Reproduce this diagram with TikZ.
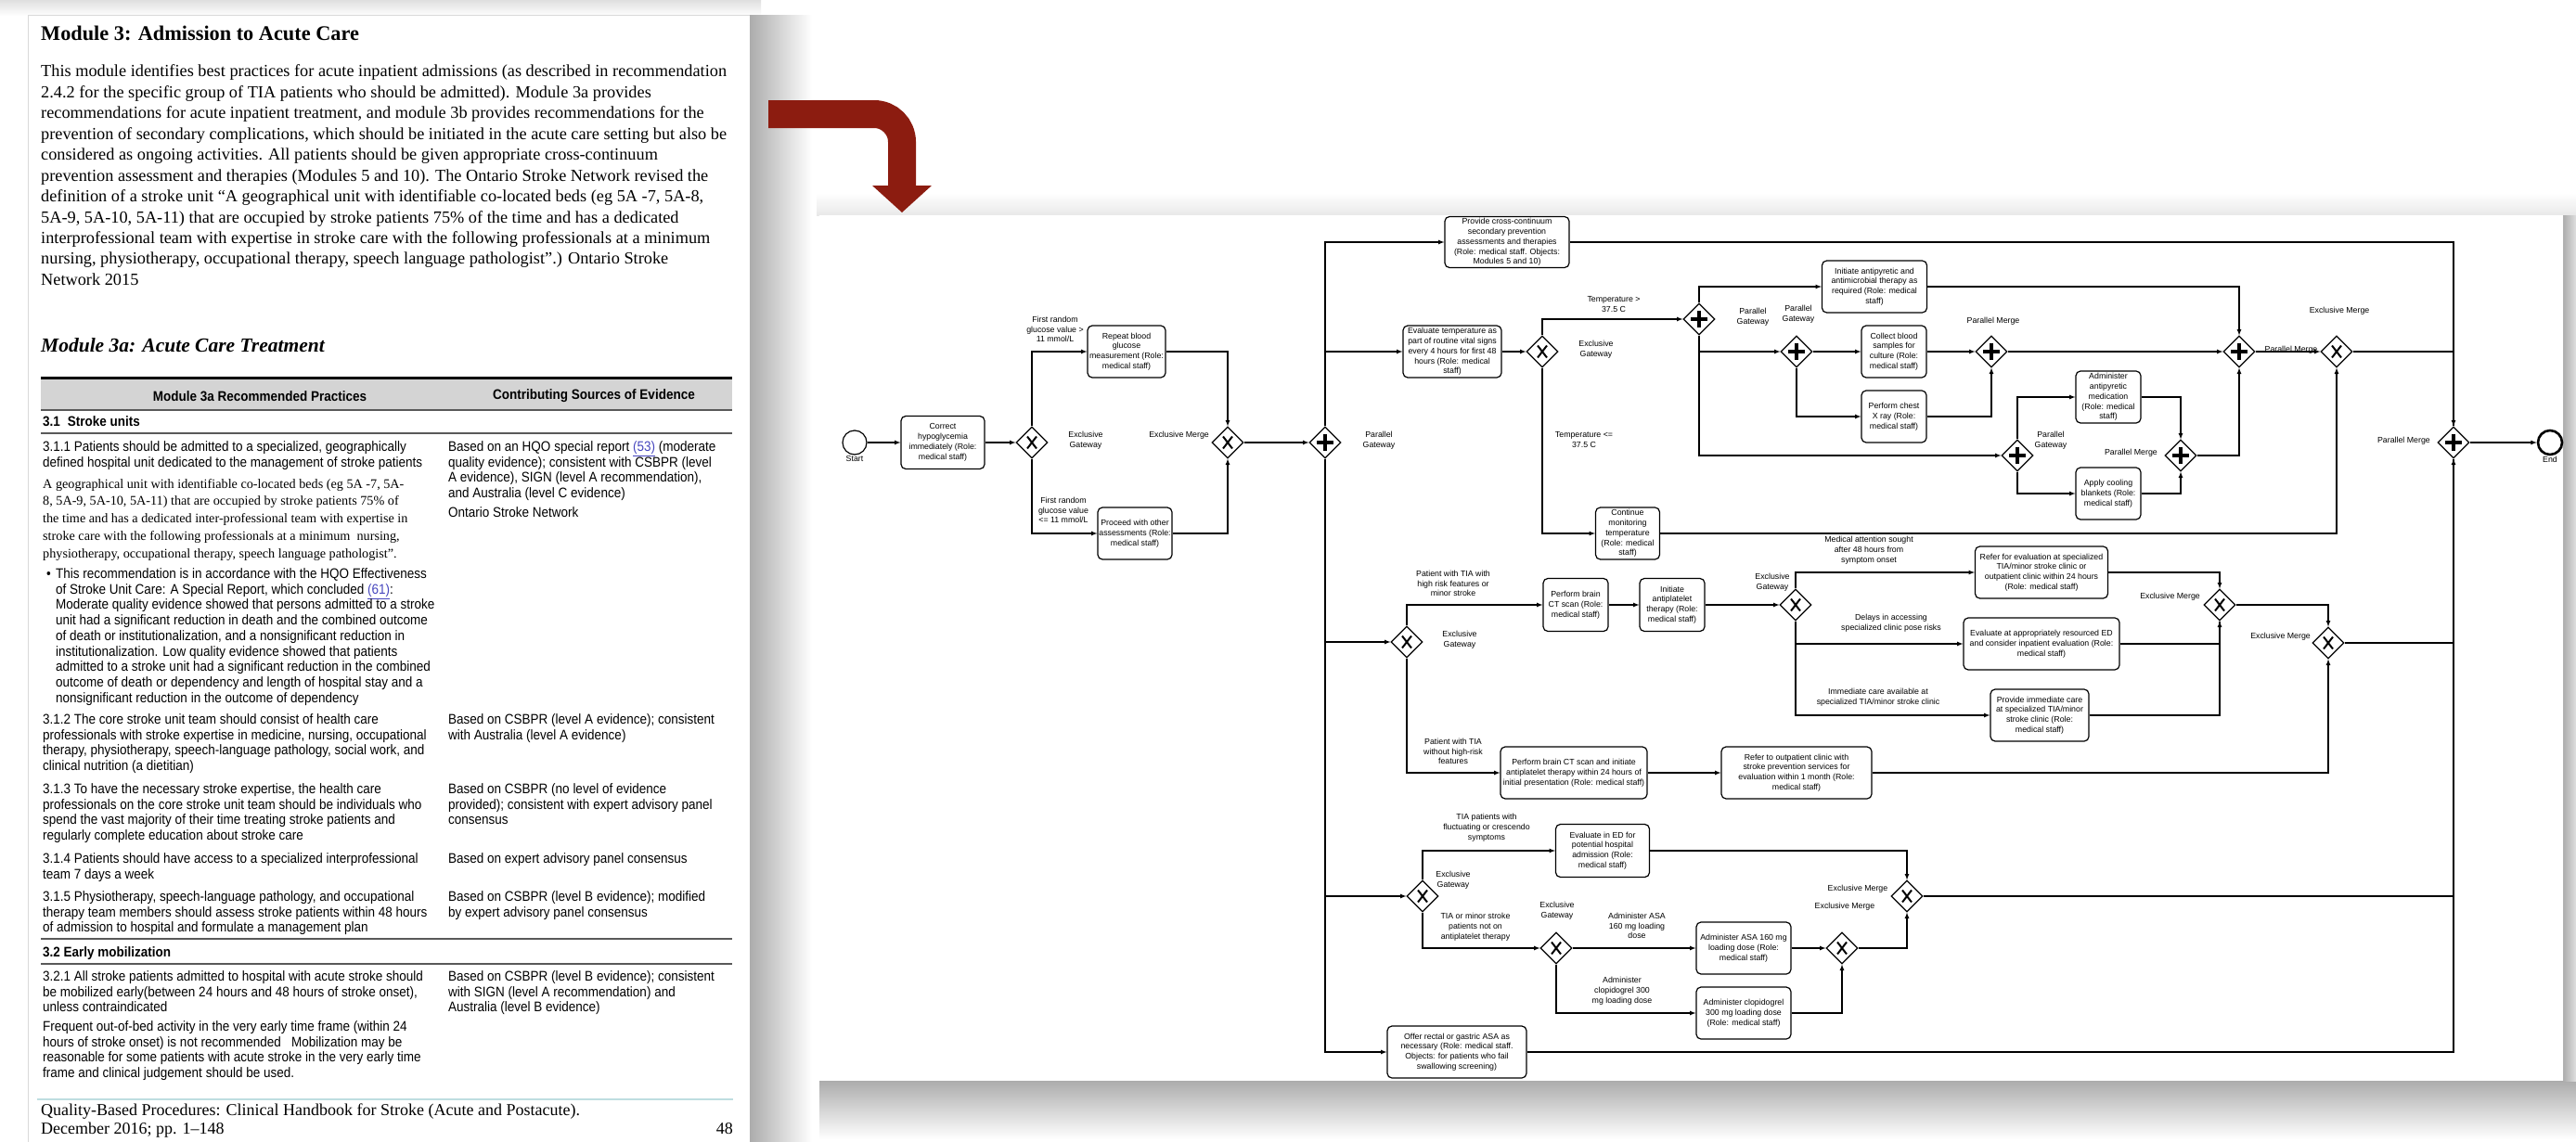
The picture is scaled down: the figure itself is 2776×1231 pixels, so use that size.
\documentclass[tikz,border=0pt]{standalone}
\usepackage{fontspec}
\setmainfont{Liberation Serif}
\newfontfamily\docserif{Liberation Serif}
\newfontfamily\tabsans[FakeStretch=0.9]{Liberation Sans}
\newfontfamily\bpmnsans{Liberation Sans}
\usetikzlibrary{shapes.geometric}
\definecolor{arrowred}{RGB}{140,28,16}
\definecolor{linkblue}{RGB}{70,70,190}
\definecolor{hdrgray}{RGB}{212,212,212}
\definecolor{footcyan}{RGB}{190,222,224}
\newcommand{\doccol}[2]{\parbox[t]{#1}{\raggedright #2}}

\tikzset{
  task/.style={draw, rounded corners=5pt, line width=1.2pt, fill=white, align=center,
    inner sep=1pt, font=\bpmnsans\fontsize{8.8}{10.8}\selectfont},
  gw/.style={diamond, draw, line width=1.2pt, fill=white, inner sep=0pt,
    minimum width=34pt, minimum height=34pt},
  xgw/.style={gw, path picture={
    \draw[line width=2pt]
      ([shift={(-5pt,-6.5pt)}]path picture bounding box.center) -- ([shift={(5pt,6.5pt)}]path picture bounding box.center)
      ([shift={(-5pt,6.5pt)}]path picture bounding box.center) -- ([shift={(5pt,-6.5pt)}]path picture bounding box.center);}},
  pgw/.style={gw, path picture={
    \draw[line width=3.5pt]
      ([shift={(-9pt,0pt)}]path picture bounding box.center) -- ([shift={(9pt,0pt)}]path picture bounding box.center)
      ([shift={(0pt,-9pt)}]path picture bounding box.center) -- ([shift={(0pt,9pt)}]path picture bounding box.center);}},
  lbl/.style={align=center, inner sep=0pt, font=\bpmnsans\fontsize{8.8}{10.8}\selectfont},
  flow/.style={line width=1.2pt, -latex},
  wire/.style={line width=1.2pt},
  evnt/.style={circle, draw, fill=white, minimum size=26pt, inner sep=0pt, line width=1.2pt},
  doctxt/.style={anchor=base west, inner sep=0pt},
  tabtxt/.style={doctxt, font=\tabsans\fontsize{15}{16.7}\selectfont},
}

\begin{document}
\begin{tikzpicture}[x=1pt, y=-1pt]
            \useasboundingbox (0,0) rectangle (2776,1231);
            \fill[white] (0,0) rectangle (2776,1231);

            % 左侧文档页
            \shade[top color=gray!25, bottom color=white] (0,0) rectangle (820,17);
            \fill[white] (30,17) rectangle (808,1231);
            \draw[gray!30, line width=1pt] (30,1231) -- (30,17) -- (808,17);
            \shade[left color=gray!65, right color=white] (808,17) rectangle (875,1231);

            \node[doctxt, font=\docserif\bfseries\fontsize{22.3}{26}\selectfont] (title) at (44,44) {Module 3: Admission to Acute Care};
            \node[doctxt, font=\docserif\fontsize{18.3}{22.5}\selectfont] (intro) at (44,82.5) {\doccol{900pt}{%
              This module identifies best practices for acute inpatient admissions (as described in recommendation\\
              2.4.2 for the specific group of TIA patients who should be admitted). Module 3a provides\\
              recommendations for acute inpatient treatment, and module 3b provides recommendations for the\\
              prevention of secondary complications, which should be initiated in the acute care setting but also be\\
              considered as ongoing activities. All patients should be given appropriate cross-continuum\\
              prevention assessment and therapies (Modules 5 and 10). The Ontario Stroke Network revised the\\
              definition of a stroke unit “A geographical unit with identifiable co-located beds (eg 5A -7, 5A-8,\\
              5A-9, 5A-10, 5A-11) that are occupied by stroke patients 75\% of the time and has a dedicated\\
              interprofessional team with expertise in stroke care with the following professionals at a minimum\\
              nursing, physiotherapy, occupational therapy, speech language pathologist”.) Ontario Stroke\\
              Network 2015}};
            \node[doctxt, font=\docserif\bfseries\itshape\fontsize{21.5}{26}\selectfont] (sub) at (44,379) {Module 3a: Acute Care Treatment};

            % 表格
            \fill[hdrgray] (44,407) rectangle (789,442);
            \draw[line width=3pt] (44,407) -- (789,407);
            \draw[line width=2pt, gray!70!black] (44,442) -- (789,442);
            \node[inner sep=0pt, font=\tabsans\bfseries\fontsize{15}{16.7}\selectfont] (hdleft) at (280,427) {Module 3a Recommended Practices};
            \node[inner sep=0pt, font=\tabsans\bfseries\fontsize{15}{16.7}\selectfont] (hdright) at (640,427) {Contributing Sources of Evidence};
            \node[tabtxt, font=\tabsans\bfseries\fontsize{15}{16.7}\selectfont] (sec31) at (46,459.5) {3.1\hspace{8pt}Stroke units};
            \draw[line width=2pt, gray!70!black] (44,467) -- (789,467);

            \node[tabtxt] (r311) at (46,486.5) {\doccol{600pt}{3.1.1 Patients should be admitted to a specialized, geographically\\
              defined hospital unit dedicated to the management of stroke patients}};
            \node[doctxt, font=\docserif\fontsize{14.2}{18.75}\selectfont] (r311b) at (46,526) {\doccol{600pt}{%
              A geographical unit with identifiable co-located beds (eg 5A -7, 5A-\\
              8, 5A-9, 5A-10, 5A-11) that are occupied by stroke patients 75\% of\\
              the time and has a dedicated inter-professional team with expertise in\\
              stroke care with the following professionals at a minimum\ \ nursing,\\
              physiotherapy, occupational therapy, speech language pathologist”.}};
            \node[tabtxt] (dot) at (50,623.5) {•};
            \node[tabtxt] (r311c) at (60,623.5) {\doccol{600pt}{%
              This recommendation is in accordance with the HQO Effectiveness\\
              of Stroke Unit Care: A Special Report, which concluded \textcolor{linkblue}{\underline{(61)}}:\\
              Moderate quality evidence showed that persons admitted to a stroke\\
              unit had a significant reduction in death and the combined outcome\\
              of death or institutionalization, and a nonsignificant reduction in\\
              institutionalization. Low quality evidence showed that patients\\
              admitted to a stroke unit had a significant reduction in the combined\\
              outcome of death or dependency and length of hospital stay and a\\
              nonsignificant reduction in the outcome of dependency}};
            \node[tabtxt] (e311) at (483,486.5) {\doccol{400pt}{%
              Based on an HQO special report \textcolor{linkblue}{\underline{(53)}} (moderate\\
              quality evidence); consistent with CSBPR (level\\
              A evidence), SIGN (level A recommendation),\\
              and Australia (level C evidence)}};
            \node[tabtxt] (e311b) at (483,557.5) {Ontario Stroke Network};

            \node[tabtxt] (r312) at (46,780.5) {\doccol{600pt}{%
              3.1.2 The core stroke unit team should consist of health care\\
              professionals with stroke expertise in medicine, nursing, occupational\\
              therapy, physiotherapy, speech-language pathology, social work, and\\
              clinical nutrition (a dietitian)}};
            \node[tabtxt] (e312) at (483,780.5) {\doccol{400pt}{Based on CSBPR (level A evidence); consistent\\
              with Australia (level A evidence)}};

            \node[tabtxt] (r313) at (46,855.5) {\doccol{600pt}{%
              3.1.3 To have the necessary stroke expertise, the health care\\
              professionals on the core stroke unit team should be individuals who\\
              spend the vast majority of their time treating stroke patients and\\
              regularly complete education about stroke care}};
            \node[tabtxt] (e313) at (483,855.5) {\doccol{400pt}{Based on CSBPR (no level of evidence\\
              provided); consistent with expert advisory panel\\ consensus}};

            \node[tabtxt] (r314) at (46,930.5) {\doccol{600pt}{%
              3.1.4 Patients should have access to a specialized interprofessional\\ team 7 days a week}};
            \node[tabtxt] (e314) at (483,930.5) {Based on expert advisory panel consensus};

            \node[tabtxt] (r315) at (46,971.5) {\doccol{600pt}{%
              3.1.5 Physiotherapy, speech-language pathology, and occupational\\
              therapy team members should assess stroke patients within 48 hours\\
              of admission to hospital and formulate a management plan}};
            \node[tabtxt] (e315) at (483,971.5) {\doccol{400pt}{Based on CSBPR (level B evidence); modified\\
              by expert advisory panel consensus}};

            \draw[line width=2pt, gray!70!black] (44,1012) -- (789,1012);
            \node[tabtxt, font=\tabsans\bfseries\fontsize{15}{16.7}\selectfont] (sec32) at (46,1031.5) {3.2 Early mobilization};
            \draw[line width=2pt, gray!70!black] (44,1039) -- (789,1039);

            \node[tabtxt] (r321) at (46,1057.5) {\doccol{600pt}{%
              3.2.1 All stroke patients admitted to hospital with acute stroke should\\
              be mobilized early(between 24 hours and 48 hours of stroke onset),\\
              unless contraindicated}};
            \node[tabtxt] (r321b) at (46,1111.5) {\doccol{600pt}{%
              Frequent out-of-bed activity in the very early time frame (within 24\\
              hours of stroke onset) is not recommended\ \ \ Mobilization may be\\
              reasonable for some patients with acute stroke in the very early time\\
              frame and clinical judgement should be used.}};
            \node[tabtxt] (e321) at (483,1057.5) {\doccol{400pt}{Based on CSBPR (level B evidence); consistent\\
              with SIGN (level A recommendation) and\\ Australia (level B evidence)}};

            % 页脚
            \draw[footcyan, line width=2pt] (40,1185) -- (790,1185);
            \node[doctxt, font=\docserif\fontsize{18}{20}\selectfont] (foot) at (44,1202) {\doccol{800pt}{%
              Quality-Based Procedures: Clinical Handbook for Stroke (Acute and Postacute).\\
              December 2016; pp. 1–148}};
            \node[anchor=base east, inner sep=0pt, font=\docserif\fontsize{18}{20}\selectfont] (pageno) at (790,1222) {48};

            % 流程图面板
            \shade[top color=white, bottom color=gray!18] (880,208) rectangle (2776,232);
            \shade[top color=gray!65, bottom color=white] (883,1165) rectangle (2776,1228);
            \shade[left color=gray!65, right color=gray!25] (2762,232) rectangle (2776,1165);
            \fill[white] (883,232) rectangle (2762,1165);
            \draw[gray!60, line width=1pt] (2762,232) -- (2762,1165);

            % 红色箭头
            \draw[arrowred, line width=30pt, rounded corners=30pt] (828,123) -| (972,202);
            \fill[arrowred] (940,200) -- (1004,200) -- (972,229) -- cycle;

            % 事件与任务
            \node[evnt, label={[lbl, yshift=-1pt]below:Start}] (sStart) at (921,477) {};
            \node[evnt, line width=2.6pt, label={[lbl, yshift=-1pt]below:End}] (eEnd) at (2748,477) {};

            \node[task, minimum width=90pt, minimum height=57pt] (tCorr) at (1016,477) {Correct\\hypoglycemia\\immediately (Role:\\medical staff)};
            \node[task, minimum width=84pt, minimum height=56pt] (tRep) at (1214,379) {Repeat blood\\glucose\\measurement (Role:\\medical staff)};
            \node[task, minimum width=80pt, minimum height=56pt] (tProc) at (1223,575) {Proceed with other\\assessments (Role:\\medical staff)};
            \node[task, minimum width=134pt, minimum height=55pt] (tProv) at (1624,261) {Provide cross-continuum\\secondary prevention\\assessments and therapies\\(Role: medical staff. Objects:\\Modules 5 and 10)};
            \node[task, minimum width=106pt, minimum height=56pt] (tEvt) at (1565,379) {Evaluate temperature as\\part of routine vital signs\\every 4 hours for first 48\\hours (Role: medical\\staff)};
            \node[task, minimum width=69pt, minimum height=56pt] (tCont) at (1754,575) {Continue\\monitoring\\temperature\\(Role: medical\\staff)};
            \node[task, minimum width=113pt, minimum height=56pt] (tInitA) at (2020,309) {Initiate antipyretic and\\antimicrobial therapy as\\required (Role: medical\\staff)};
            \node[task, minimum width=70pt, minimum height=56pt] (tColl) at (2041,379) {Collect blood\\samples for\\culture (Role:\\medical staff)};
            \node[task, minimum width=70pt, minimum height=56pt] (tXray) at (2041,449) {Perform chest\\X ray (Role:\\medical staff)};
            \node[task, minimum width=70pt, minimum height=56pt] (tAdmA) at (2272,428) {Administer\\antipyretic\\medication\\(Role: medical\\staff)};
            \node[task, minimum width=70pt, minimum height=56pt] (tCool) at (2272,532) {Apply cooling\\blankets (Role:\\medical staff)};
            \node[task, minimum width=70pt, minimum height=57pt] (tCt) at (1698,652) {Perform brain\\CT scan (Role:\\medical staff)};
            \node[task, minimum width=70pt, minimum height=57pt] (tAnti) at (1802,652) {Initiate\\antiplatelet\\therapy (Role:\\medical staff)};
            \node[task, minimum width=143pt, minimum height=56pt] (tRefS) at (2200,617) {Refer for evaluation at specialized\\TIA/minor stroke clinic or\\outpatient clinic within 24 hours\\(Role: medical staff)};
            \node[task, minimum width=168pt, minimum height=56pt] (tEvED) at (2200,694) {Evaluate at appropriately resourced ED\\and consider inpatient evaluation (Role:\\medical staff)};
            \node[task, minimum width=106pt, minimum height=56pt] (tProvI) at (2198,771) {Provide immediate care\\at specialized TIA/minor\\stroke clinic (Role:\\medical staff)};
            \node[task, minimum width=158pt, minimum height=56pt] (tCtA) at (1696,833) {Perform brain CT scan and initiate\\antiplatelet therapy within 24 hours of\\initial presentation (Role: medical staff)};
            \node[task, minimum width=162pt, minimum height=56pt] (tRefO) at (1936,833) {Refer to outpatient clinic with\\stroke prevention services for\\evaluation within 1 month (Role:\\medical staff)};
            \node[task, minimum width=101pt, minimum height=57pt] (tEdA) at (1727,917) {Evaluate in ED for\\potential hospital\\admission (Role:\\medical staff)};
            \node[task, minimum width=102pt, minimum height=56pt] (tAsa) at (1879,1022) {Administer ASA 160 mg\\loading dose (Role:\\medical staff)};
            \node[task, minimum width=102pt, minimum height=56pt] (tClop) at (1879,1092) {Administer clopidogrel\\300 mg loading dose\\(Role: medical staff)};
            \node[task, minimum width=150pt, minimum height=56pt] (tOffer) at (1570,1134) {Offer rectal or gastric ASA as\\necessary (Role: medical staff.\\Objects: for patients who fail\\swallowing screening)};

            % 网关
            \node[xgw] (gX1) at (1112,477) {};
            \node[xgw] (gX2) at (1323,477) {};
            \node[pgw] (gP0) at (1428,477) {};
            \node[xgw] (gX3) at (1662,379) {};
            \node[pgw] (gPA) at (1831,344) {};
            \node[pgw] (gPB) at (1936,379) {};
            \node[pgw] (gPE) at (2146,379) {};
            \node[pgw] (gPC) at (2174,491) {};
            \node[pgw] (gPF) at (2350,491) {};
            \node[pgw] (gPD) at (2413,379) {};
            \node[xgw] (gXG) at (2518,379) {};
            \node[pgw] (gPH) at (2644,477) {};
            \node[xgw] (gT1) at (1516,692) {};
            \node[xgw] (gT2) at (1935,652) {};
            \node[xgw] (gT3) at (2392,652) {};
            \node[xgw] (gT4) at (2509,693) {};
            \node[xgw] (gA1) at (1533,966) {};
            \node[xgw] (gA2) at (1677,1022) {};
            \node[xgw] (gA3) at (1985,1022) {};
            \node[xgw] (gA4) at (2055,966) {};

            % 网关标注
            \node[lbl] (lX1) at (1170,475) {Exclusive\\Gateway};
            \node[lbl, anchor=east] (lX2) at (1303,469) {Exclusive Merge};
            \node[lbl] (lP0) at (1486,475) {Parallel\\Gateway};
            \node[lbl] (lX3) at (1720,377) {Exclusive\\Gateway};
            \node[lbl] (lPA) at (1889,342) {Parallel\\Gateway};
            \node[lbl] (lPB) at (1938,339) {Parallel\\Gateway};
            \node[lbl] (lPE) at (2148,346) {Parallel Merge};
            \node[lbl] (lPC) at (2210,475) {Parallel\\Gateway};
            \node[lbl, anchor=east] (lPF) at (2325,488) {Parallel Merge};
            \node[lbl] (lPD) at (2469,377) {Parallel Merge};
            \node[lbl] (lXG) at (2521,335) {Exclusive Merge};
            \node[lbl, anchor=east] (lPH) at (2619,475) {Parallel Merge};
            \node[lbl] (lT1) at (1573,690) {Exclusive\\Gateway};
            \node[lbl] (lT2) at (1910,628) {Exclusive\\Gateway};
            \node[lbl, anchor=east] (lT3) at (2371,643) {Exclusive Merge};
            \node[lbl, anchor=east] (lT4) at (2490,686) {Exclusive Merge};
            \node[lbl] (lA1) at (1566,949) {Exclusive\\Gateway};
            \node[lbl] (lA2) at (1678,982) {Exclusive\\Gateway};
            \node[lbl] (lA3) at (1988,977) {Exclusive Merge};
            \node[lbl] (lA4) at (2002,958) {Exclusive Merge};

            % 条件标注
            \node[lbl] (c1) at (1137,355) {First random\\glucose value >\\11 mmol/L};
            \node[lbl] (c2) at (1146,550) {First random\\glucose value\\<= 11 mmol/L};
            \node[lbl] (c3) at (1739,328) {Temperature >\\37.5 C};
            \node[lbl] (c4) at (1707,474) {Temperature <=\\37.5 C};
            \node[lbl] (c5) at (1566,629) {Patient with TIA with\\high risk features or\\minor stroke};
            \node[lbl] (c6) at (2014,593) {Medical attention sought\\after 48 hours from\\symptom onset};
            \node[lbl] (c7) at (2038,672) {Delays in accessing\\specialized clinic pose risks};
            \node[lbl] (c8) at (2024,752) {Immediate care available at\\specialized TIA/minor stroke clinic};
            \node[lbl] (c9) at (1566,810) {Patient with TIA\\without high-risk\\features};
            \node[lbl] (c10) at (1602,892) {TIA patients with\\fluctuating or crescendo\\symptoms};
            \node[lbl] (c11) at (1590,999) {TIA or minor stroke\\patients not on\\antiplatelet therapy};
            \node[lbl] (c12) at (1764,998) {Administer ASA\\160 mg loading\\dose};
            \node[lbl] (c13) at (1748,1068) {Administer\\clopidogrel 300\\mg loading dose};

            % 连线
            \draw[flow] (sStart) -- (tCorr);
            \draw[flow] (tCorr) -- (gX1);
            \draw[flow] (gX1.north) |- (tRep.west);
            \draw[flow] (gX1.south) |- (tProc.west);
            \draw[flow] (tRep.east) -| (gX2.north);
            \draw[flow] (tProc.east) -| (gX2.south);
            \draw[flow] (gX2) -- (gP0);
            \draw[flow] (gP0.north) |- (tProv.west);
            \draw[flow] (gP0.north) |- (tEvt.west);
            \draw[flow] (gP0.south) |- (gT1.west);
            \draw[flow] (gP0.south) |- (gA1.west);
            \draw[flow] (gP0.south) |- (tOffer.west);
            \draw[flow] (tProv.east) -| (gPH.north);
            \draw[flow] (tEvt) -- (gX3);
            \draw[flow] (gX3.north) |- (gPA.west);
            \draw[flow] (gX3.south) |- (tCont.west);
            \draw[flow] (tCont.east) -| (gXG.south);
            \draw[flow] (gPA.north) |- (tInitA.west);
            \draw[flow] (gPA.south) |- (gPB.west);
            \draw[flow] (gPA.south) |- (gPC.west);
            \draw[flow] (gPB) -- (tColl);
            \draw[flow] (gPB.south) |- (tXray.west);
            \draw[flow] (tColl) -- (gPE);
            \draw[flow] (tXray.east) -| (gPE.south);
            \draw[flow] (gPE) -- (gPD);
            \draw[flow] (tInitA.east) -| (gPD.north);
            \draw[flow] (gPC.north) |- (tAdmA.west);
            \draw[flow] (gPC.south) |- (tCool.west);
            \draw[flow] (tAdmA.east) -| (gPF.north);
            \draw[flow] (tCool.east) -| (gPF.south);
            \draw[flow] (gPF.east) -| (gPD.south);
            \draw[flow] (gPD) -- (gXG);
            \draw[wire] (gXG.east) -| (gPH.north);
            \draw[flow] (gPH) -- (eEnd);
            \draw[flow] (gT1.north) |- (tCt.west);
            \draw[flow] (gT1.south) |- (tCtA.west);
            \draw[flow] (tCt) -- (tAnti);
            \draw[flow] (tAnti) -- (gT2);
            \draw[flow] (gT2.north) |- (tRefS.west);
            \draw[flow] (gT2.south) |- (tEvED.west);
            \draw[flow] (gT2.south) |- (tProvI.west);
            \draw[flow] (tRefS.east) -| (gT3.north);
            \draw[wire] (tEvED.east) -| (gT3.south);
            \draw[flow] (tProvI.east) -| (gT3.south);
            \draw[flow] (gT3.east) -| (gT4.north);
            \draw[flow] (tCtA) -- (tRefO);
            \draw[flow] (tRefO.east) -| (gT4.south);
            \draw[wire] (gT4.east) -| (gPH.south);
            \draw[flow] (gA1.north) |- (tEdA.west);
            \draw[flow] (gA1.south) |- (gA2.west);
            \draw[flow] (tEdA.east) -| (gA4.north);
            \draw[flow] (gA2) -- (tAsa);
            \draw[flow] (gA2.south) |- (tClop.west);
            \draw[flow] (tAsa) -- (gA3);
            \draw[flow] (tClop.east) -| (gA3.south);
            \draw[flow] (gA3.east) -| (gA4.south);
            \draw[wire] (gA4.east) -| (gPH.south);
            \draw[flow] (tOffer.east) -| (gPH.south);
\end{tikzpicture}
\end{document}
